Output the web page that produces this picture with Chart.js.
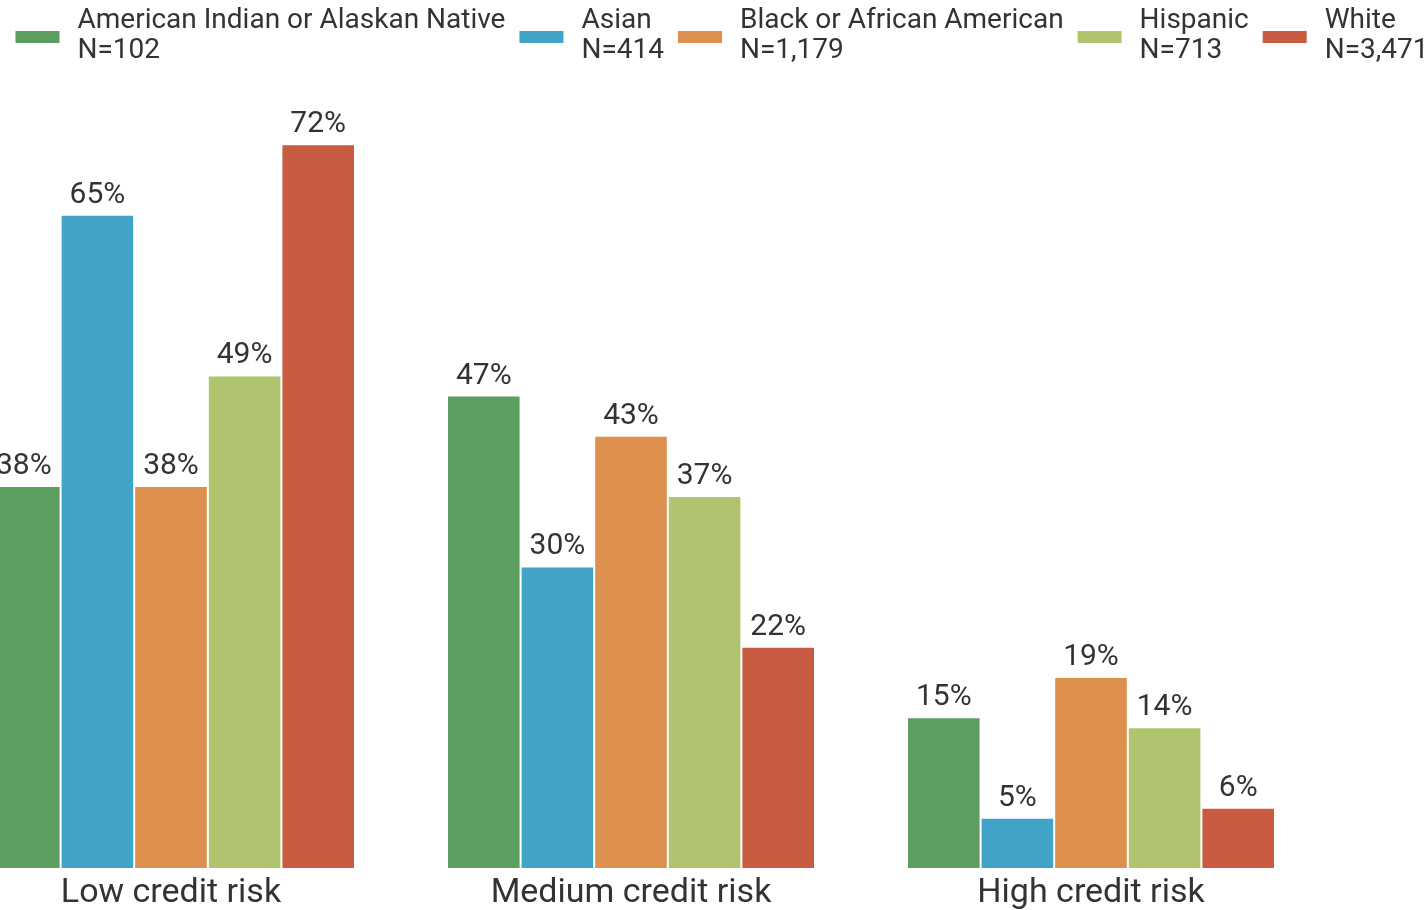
<!DOCTYPE html>
<html lang="en">
<head>
  <meta charset="UTF-8">
  <title>Credit risk by race</title>
  <script src="https://cdn.jsdelivr.net/npm/chart.js"></script>
  <style>
    body { margin: 0; overflow: hidden; background: #fff; }
    #wrap { position: absolute; left: -59px; top: 0; width: 1552px; height: 910px; }
  </style>
</head>
<body>
<div id="wrap">
  <canvas id="riskChart"></canvas>
</div>

<script>
  // categories and series
  const categories = ['Low credit risk', 'Medium credit risk', 'High credit risk'];
  const groups = ['American Indian or Alaskan Native', 'Asian', 'Black or African American', 'Hispanic', 'White'];
  const groupN = ['N=102', 'N=414', 'N=1,179', 'N=713', 'N=3,471'];
  const colors = ['#5b9e5f', '#42a3c8', '#dd904d', '#b0c46f', '#c95b42'];

  const americanIndian = [38, 47, 15];
  const asian = [65, 30, 5];
  const black = [38, 43, 19];
  const hispanic = [49, 37, 14];
  const white = [72, 22, 6];
  const seriesValues = [americanIndian, asian, black, hispanic, white];

  // draws the % above each bar
  const valueLabels = {
    id: 'valueLabels',
    afterDatasetsDraw(chart) {
      const ctx = chart.ctx;
      ctx.save();
      ctx.font = '30px Roboto';
      ctx.fillStyle = '#333';
      ctx.textAlign = 'center';
      ctx.textBaseline = 'alphabetic';
      chart.data.datasets.forEach((ds, i) => {
        chart.getDatasetMeta(i).data.forEach((bar, j) => {
          ctx.fillText(ds.data[j] + '%', bar.x, bar.y - 12);
        });
      });
      ctx.restore();
    }
  };

  // two-line legend (name + N), drawn in one row across the top
  const twoLineLegend = {
    id: 'twoLineLegend',
    afterDraw(chart, args, opts) {
      const ctx = chart.ctx;
      ctx.save();
      ctx.font = opts.size + 'px Roboto';
      const items = chart.data.datasets.map((ds, i) => {
        const w = Math.max(ctx.measureText(groups[i]).width, ctx.measureText(groupN[i]).width);
        return { color: ds.backgroundColor, lines: [groups[i], groupN[i]], w: w };
      });
      const total = items.reduce((s, it) => s + opts.boxW + opts.gap + it.w, 0) + opts.spacing * (items.length - 1);
      let x = opts.center - total / 2;
      ctx.textBaseline = 'alphabetic';
      ctx.textAlign = 'left';
      items.forEach(it => {
        ctx.fillStyle = it.color;
        ctx.fillRect(x, opts.boxY, opts.boxW, opts.boxH);
        ctx.fillStyle = '#333';
        ctx.fillText(it.lines[0], x + opts.boxW + opts.gap, opts.line1);
        ctx.fillText(it.lines[1], x + opts.boxW + opts.gap, opts.line2);
        x += opts.boxW + opts.gap + it.w + opts.spacing;
      });
      ctx.restore();
    }
  };

  const ctx = document.getElementById('riskChart').getContext('2d');
  const chart = new Chart(ctx, {
    type: 'bar',
    data: {
      labels: categories,
      datasets: groups.map((g, i) => ({
        label: g,
        data: seriesValues[i],
        backgroundColor: colors[i],
        borderColor: 'rgba(255,255,255,0.7)',
        borderWidth: 1,
        categoryPercentage: 0.8,
        barPercentage: 1.0
      }))
    },
    options: {
      responsive: true,
      maintainAspectRatio: false,
      animation: false,
      layout: { padding: { top: 84, bottom: 0 } },
      plugins: {
        tooltip: { enabled: false },
        legend: { display: false },
        twoLineLegend: {
          size: 28, boxW: 44, boxH: 12, gap: 18, spacing: 14,
          center: 781, boxY: 31, line1: 28, line2: 58
        }
      },
      scales: {
        x: {
          grid: { display: false, drawTicks: false },
          border: { display: false },
          ticks: { font: { family: 'Roboto', size: 34, lineHeight: 1.118 }, color: '#333', padding: 6 },
          afterFit(scale) { scale.height = 42; }
        },
        y: {
          position: 'right',
          min: 0,
          max: 78,
          grid: { display: false, drawTicks: false },
          border: { display: false },
          ticks: { display: false },
          afterFit(scale) { scale.width = 172; }
        }
      }
    },
    plugins: [valueLabels, twoLineLegend]
  });
</script>
</body>
</html>
